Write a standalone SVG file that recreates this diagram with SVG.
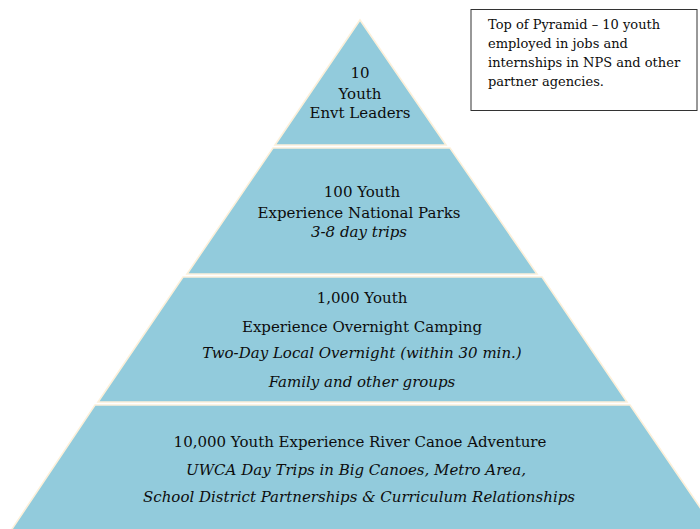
<svg xmlns="http://www.w3.org/2000/svg" width="700" height="529" viewBox="0 0 700 529">
  <style>
    .tier { fill: #92cbdc; stroke: #fcf0da; stroke-width: 1.6; stroke-linejoin: miter; }
    .t { font-family: "DejaVu Serif", "Liberation Serif", serif; font-size: 15px; fill: #0d0d0d; text-anchor: middle; }
    .i { font-style: italic; }
    .note { font-family: "DejaVu Serif", "Liberation Serif", serif; font-size: 13px; fill: #0d0d0d; }
  </style>
  <rect width="700" height="529" fill="#ffffff"/>

  <!-- pyramid tiers, top to bottom -->
  <g id="tier-leaders">
    <polygon class="tier" points="360,20 446,145 275,145"/>
    <text class="t" x="360" y="78">10</text>
    <text class="t" x="360" y="98.5">Youth</text>
    <text class="t" x="360" y="118">Envt Leaders</text>
  </g>

  <g id="tier-parks">
    <polygon class="tier" points="273,148 450,148 537,274 187,274"/>
    <text class="t" x="362" y="197">100 Youth</text>
    <text class="t" x="359" y="218">Experience National Parks</text>
    <text class="t i" x="359" y="237">3-8 day trips</text>
  </g>

  <g id="tier-camping">
    <polygon class="tier" points="183,277 542,277 627,402 98,402"/>
    <text class="t" x="362" y="303">1,000 Youth</text>
    <text class="t" x="362" y="332">Experience Overnight Camping</text>
    <text class="t i" x="362" y="358" font-size="15.5">Two-Day Local Overnight (within 30 min.)</text>
    <text class="t i" x="362" y="387">Family and other groups</text>
  </g>

  <g id="tier-canoe">
    <polygon class="tier" points="95,405 630,405 719,535 8,535"/>
    <text class="t" x="360" y="447">10,000 Youth Experience River Canoe Adventure</text>
    <text class="t i" x="356" y="475">UWCA Day Trips in Big Canoes, Metro Area,</text>
    <text class="t i" x="359" y="502">School District Partnerships &amp; Curriculum Relationships</text>
  </g>

  <!-- callout box -->
  <g id="note-top">
    <rect x="471" y="9.5" width="226" height="101" fill="#ffffff" stroke="#333333" stroke-width="1"/>
    <text class="note" x="488" y="29">Top of Pyramid – 10 youth</text>
    <text class="note" x="488" y="48">employed in jobs and</text>
    <text class="note" x="488" y="67">internships in NPS and other</text>
    <text class="note" x="488" y="86">partner agencies.</text>
  </g>
</svg>
